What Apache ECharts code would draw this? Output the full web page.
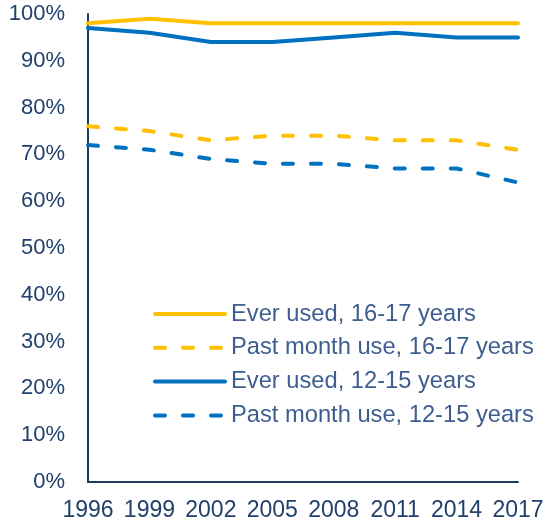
<!DOCTYPE html>
<html><head><meta charset="utf-8">
<script src="https://cdn.jsdelivr.net/npm/echarts@6/dist/echarts.min.js"></script>
<style>html,body{margin:0;padding:0;background:#fff}#c{width:548px;height:521px}</style>
</head><body><div id="c"></div>
<script>
const years = ['1996','1999','2002','2005','2008','2011','2014','2017'];
const everUsed1617 = [98, 99, 98, 98, 98, 98, 98, 98];
const pastMonth1617 = [76, 75, 73, 74, 74, 73, 73, 71];
const everUsed1215 = [97, 96, 94, 94, 95, 96, 95, 95];
const pastMonth1215 = [72, 71, 69, 68, 68, 67, 67, 64];
const seriesNames = ['Ever used, 16-17 years','Past month use, 16-17 years','Ever used, 12-15 years','Past month use, 12-15 years'];

const ORANGE = '#FFC000', BLUE = '#0070C0', NAVY = '#1F3864';
function mk(name, data, color, dashed){
  return {name, type:'line', data, symbol:'none', smooth:false,
    lineStyle:{color, width:4, type: dashed ? [10,18] : 'solid', cap:'round', join:'round'},
    itemStyle:{color}};
}
const chart = echarts.init(document.getElementById('c'));
chart.setOption({
  animation:false,
  grid:{left:88, right:30, top:14, bottom:39, containLabel:false, outerBoundsMode:'none'},
  legend:{orient:'vertical', left:148, top:297, itemWidth:70, itemHeight:14, itemGap:9.8,
    itemStyle:{opacity:0},
    lineStyle:{width:4, cap:'round'},
    textStyle:{fontFamily:'Liberation Sans, Arial', fontSize:23.7, color:'#3D5E8F', padding:[0,0,0,1]},
    data: seriesNames},
  xAxis:{type:'category', data:years, boundaryGap:false,
    axisLine:{lineStyle:{color:NAVY, width:2}}, axisTick:{show:false},
    axisLabel:{interval:0, hideOverlap:false, fontFamily:'Liberation Sans, Arial', fontSize:23, color:'#22406A', margin:17}},
  yAxis:{type:'value', min:0, max:100, interval:10,
    axisLine:{show:true, lineStyle:{color:NAVY, width:2}}, axisTick:{show:false}, splitLine:{show:false},
    axisLabel:{fontFamily:'Liberation Sans, Arial', fontSize:22, color:'#22406A', margin:23, formatter:'{value}%'}},
  series:[
    mk(seriesNames[0], everUsed1617, ORANGE, false),
    mk(seriesNames[1], pastMonth1617, ORANGE, true),
    mk(seriesNames[2], everUsed1215, BLUE, false),
    mk(seriesNames[3], pastMonth1215, BLUE, true)
  ]
});
</script></body></html>
